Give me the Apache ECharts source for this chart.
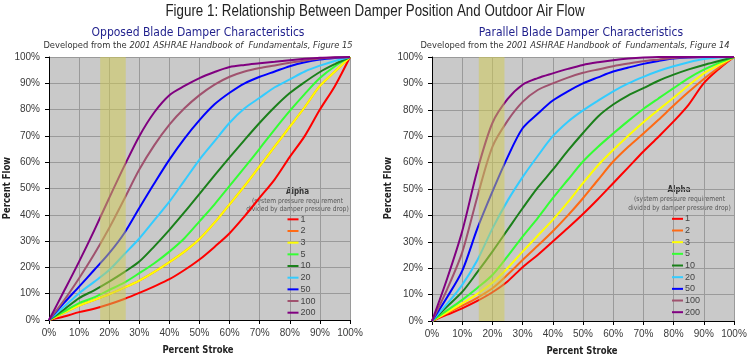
<!DOCTYPE html>
<html><head><meta charset="utf-8">
<script src="https://cdn.jsdelivr.net/npm/echarts@6/dist/echarts.min.js"></script>
<style>html,body{margin:0;padding:0;background:#fff}#c{width:750px;height:361px}</style>
</head><body><div id="c"></div>
<script>
// ---- data ----
const strokes = [0,5,10,15,20,25,30,35,40,45,50,55,60,65,70,75,80,85,90,95,100];
const alphaNames = ['1','2','3','5','10','20','50','100','200'];
const tickValues = [0,10,20,30,40,50,60,70,80,90,100];

// Opposed blade (left)
const opp_1   = [0,1.3,3,4.3,6,8,10.3,12.8,15.5,19,23,27.8,33,39.5,46.5,53.5,62,70,80,89,100];
const opp_2   = [0,2.7,5.5,7.6,9.8,12.3,15,18.3,22,26,30.8,37,44,51,58.5,66,73.5,81,89,94.5,100];
const opp_3   = [0,2.7,5.5,7.6,9.8,12.3,15,18.3,22,26,30.8,37,44,51,58.5,66,73.5,81,89,94.5,100];
const opp_5   = [0,3.2,6.4,8.6,11.4,14.2,17.8,21.6,26,31.1,37.5,44,51,58,65.2,72.5,79.5,86,92,96.5,100];
const opp_10  = [0,4,8.3,11.3,14.6,18.2,22.2,28,34.3,41,48,55,61.8,68.5,75,81,86.3,90.5,94.3,97.3,100];
const opp_20  = [0,5,10.2,14.5,19,25,31,38,45,53,61,68,75,80.5,84.5,88.5,91.5,94.5,96.7,98.5,100];
const opp_50  = [0,6.5,12.7,19,25.4,33,42.6,52,61,69,76,82,86.4,90,92.5,94.5,96.5,98,99,99.6,100];
const opp_100 = [0,7.5,15.9,25,35,46,57.2,66.5,74.3,80.5,85.5,89.5,92.5,94.5,95.8,96.8,97.8,98.7,99.4,99.8,100];
const opp_200 = [0,11,22.2,34,46.4,58.5,69.9,79,85.5,89,92,94.3,96.2,97,97.6,98.2,98.8,99.3,99.7,99.9,100];

// Parallel blade (right)
const par_1   = [0,2.4,4.8,7.6,10.9,15,20.4,25,30.1,35.2,40.5,46.2,52.2,58.2,64.2,69.8,75.6,82,90.1,95.5,100];
const par_2   = [0,3,5.8,8.8,12.4,17.5,23.1,28.5,34,40,46.5,53.5,60.4,66,71,76.2,81.6,86.8,91.7,96,100];
const par_3   = [0,3.3,6.7,10.3,14.5,20,26.3,32.3,38.3,45,52.2,59,64.8,70.2,75.3,80,84.6,89.3,93.8,97,100];
const par_5   = [0,4,8,12.5,17.4,24.5,32,39,46.5,53.5,60.4,66,71,75.8,80.3,84.3,88.2,92,95.2,97.8,100];
const par_10  = [0,5.5,11,18.5,26.3,34.5,42.7,50.5,57.3,64.5,71.2,77.5,82,85.5,88.2,91,93.3,95.3,97,98.5,100];
const par_20  = [0,6.5,13.7,23,35,45.5,54.5,62.5,70,75.5,79.8,83.5,87,90,92.5,94.7,96.5,98,99.2,99.8,100];
const par_50  = [0,9,19,35,49,62,73,78.5,83.5,87,90,92.3,94.5,96,97.4,98.5,99.4,99.8,100,100,100];
const par_100 = [0,12,26,47,66,75.8,83,87.5,90,92.2,94,95.3,96.5,97.5,98.4,99,99.6,99.9,100,100,100];
const par_200 = [0,16,34,57,75,84,89.5,92,93.8,95.5,97,98,98.8,99.4,99.8,100,100,100,100,100,100];

const bandLeft  = [17, 25.5];
const bandRight = [15.5, 24];

// ---- styles ----
const colors = ['#ff0000','#ff6a14','#ffff00','#33ff33','#1a801a','#33ccff','#0000ff','#a0526e','#800080'];
const oppSets = [opp_1,opp_2,opp_3,opp_5,opp_10,opp_20,opp_50,opp_100,opp_200];
const parSets = [par_1,par_2,par_3,par_5,par_10,par_20,par_50,par_100,par_200];
const tickFont = '"Liberation Sans", Arial, sans-serif';
const tahoma = '"DejaVu Sans", "Noto Sans", sans-serif';

function pairs(ys){ return strokes.map((s,i)=>[s, ys[i]]); }

function makeAxes(idx){
  const common = {
    type:'value', min:0, max:100, interval:10, gridIndex: idx,
    axisLine:{show:true, lineStyle:{color:'#000', width:1}},
    axisTick:{show:true, inside:false, length:4, lineStyle:{color:'#000'}},
    splitLine:{show:true, lineStyle:{color:'#9a9a9a', width:1}},
    axisLabel:{formatter:'{value}%', color:'#3a3a3a', fontSize:10, fontFamily: tickFont}
  };
  return {
    x: Object.assign({}, common, {axisLabel: Object.assign({}, common.axisLabel, {margin:8})}),
    y: Object.assign({}, common, {axisLabel: Object.assign({}, common.axisLabel, {margin:9})})
  };
}
const a0 = makeAxes(0), a1 = makeAxes(1);

const series = [];
[oppSets, parSets].forEach((sets, g)=>{
  sets.forEach((ys, i)=>{
    const s = {
      name: alphaNames[i], type:'line', xAxisIndex:g, yAxisIndex:g,
      data: pairs(ys), symbol:'none', smooth:0.3,
      lineStyle:{color:colors[i], width:2}, itemStyle:{color:colors[i]},
      animation:false
    };
    if(i===0){
      const b = g===0 ? bandLeft : bandRight;
      s.markArea = {
        silent:true, z:5,
        itemStyle:{color:'rgba(210,204,80,0.5)'},
        data:[[{xAxis:b[0]},{xAxis:b[1]}]]
      };
    }
    series.push(s);
  });
});

function legendAt(left, top){
  return {
    data: alphaNames, orient:'vertical', left:left, top:top, padding:0,
    itemWidth:11, itemHeight:2, itemGap:0, icon:'rect',
    textStyle:{fontSize:9, color:'#444', fontFamily: tickFont, lineHeight:11.67, padding:[0,0,0,-3]},
    selectedMode:false
  };
}

const txt = (x,y,text,font,fill,sx,extra)=>Object.assign({
  type:'text', x:x, y:y, silent:true, scaleX: sx||1,
  style:Object.assign({text:text, font:font, fill:fill, align:'center', verticalAlign:'middle'})
}, extra||{});

function devText(x, fig){
  return { type:'text', x:x, y:45.5, silent:true, scaleX:0.88, style:{
      text:'Developed from the {i|2001 ASHRAE Handbook of  Fundamentals, Figure ' + fig + '}',
      fontSize:9.5, fontFamily:tahoma, fill:'#333', align:'center', verticalAlign:'middle',
      rich:{ i:{fontStyle:'italic', fontSize:9.5, fontFamily:tahoma, fill:'#333'} } } };
}

const graphics = [
  txt(375, 11, 'Figure 1: Relationship Between Damper Position And Outdoor Air Flow', '17px "Liberation Sans", Arial, sans-serif', '#222', 0.785),
  txt(198, 33, 'Opposed Blade Damper Characteristics', '12px ' + tahoma, '#1f1f8c', 0.9),
  txt(581, 33, 'Parallel Blade Damper Characteristics', '12px ' + tahoma, '#1f1f8c', 0.9),
  devText(198, '15'),
  devText(575, '14'),
  txt(198, 350, 'Percent Stroke', 'bold 11px ' + tahoma, '#222', 0.77),
  txt(582, 351.5, 'Percent Stroke', 'bold 11px ' + tahoma, '#222', 0.77),
  txt(7, 188, 'Percent Flow', 'bold 11px ' + tahoma, '#222', 0.77, {rotation: Math.PI/2}),
  txt(388, 188, 'Percent Flow', 'bold 11px ' + tahoma, '#222', 0.77, {rotation: Math.PI/2}),
  // legend headers
  txt(297.5, 191.5, 'Alpha', 'bold 8px ' + tahoma, '#333', 0.9),
  txt(297.5, 201, '(system pressure requirement', '7px ' + tahoma, '#555', 0.86),
  txt(297.5, 209.5, 'divided by damper pressure drop)', '7px ' + tahoma, '#555', 0.86),
  txt(679, 190, 'Alpha', 'bold 8px ' + tahoma, '#333', 0.9),
  txt(679.5, 199.5, '(system pressure requirement', '7px ' + tahoma, '#555', 0.86),
  txt(679.5, 208.5, 'divided by damper pressure drop)', '7px ' + tahoma, '#555', 0.86)
];

const chart = echarts.init(document.getElementById('c'), null, {renderer:'canvas'});
chart.setOption({
  animation:false,
  backgroundColor:'#ffffff',
  grid:[
    {left:49, top:57, width:301, height:263, show:true, backgroundColor:'#c9c9c9', borderWidth:0},
    {left:432, top:57, width:302, height:264, show:true, backgroundColor:'#c9c9c9', borderWidth:0}
  ],
  xAxis:[a0.x, a1.x],
  yAxis:[a0.y, a1.y],
  legend:[legendAt(287.5, 213.5), legendAt(672, 213)],
  series: series,
  graphic: graphics
});
</script></body></html>
